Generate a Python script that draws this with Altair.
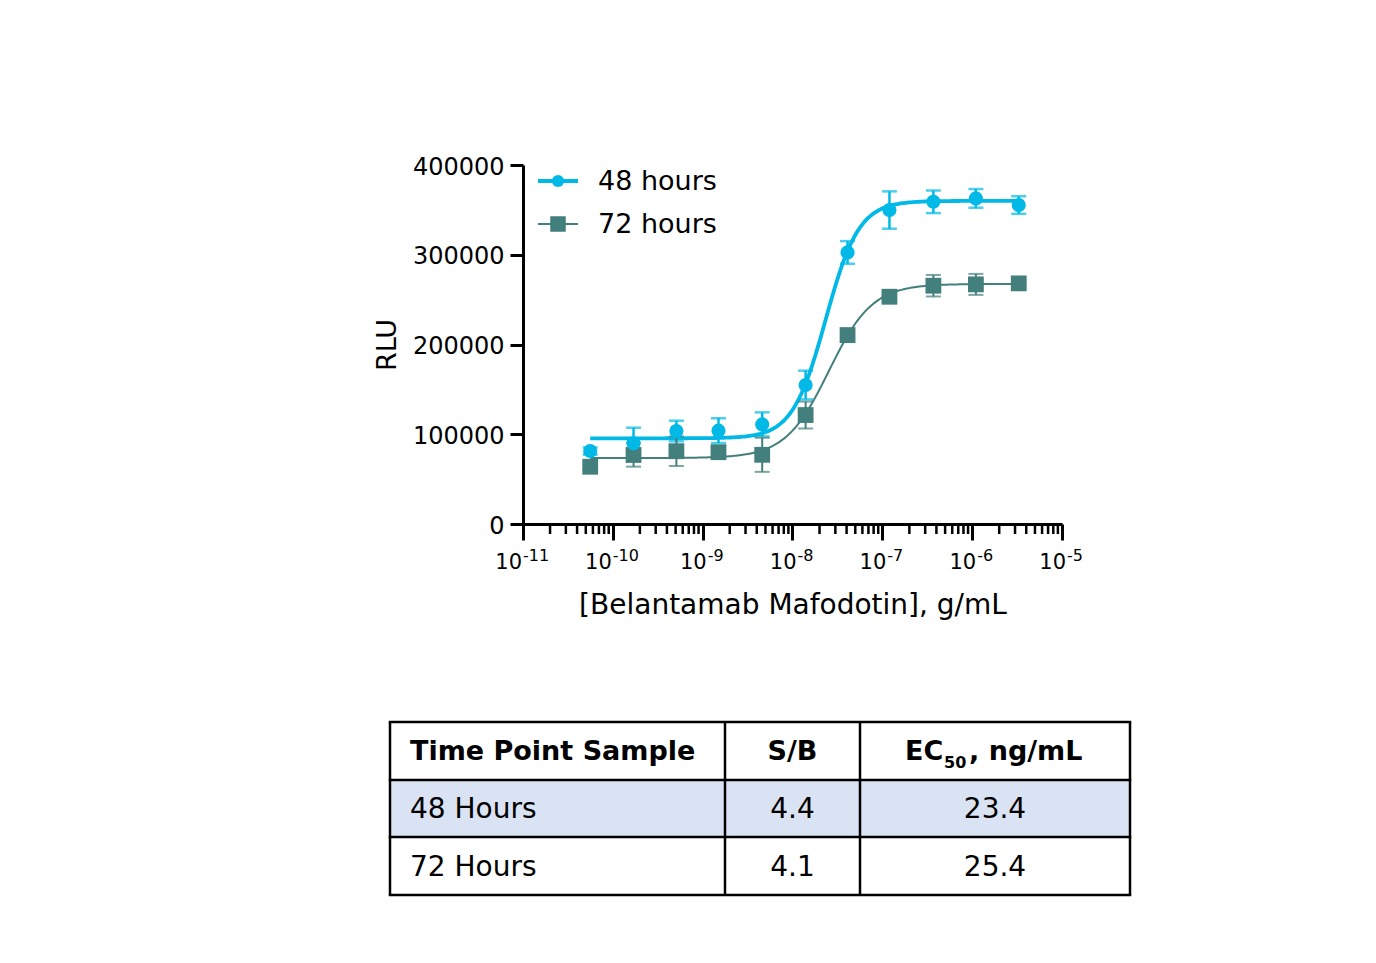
import math
import altair as alt
import pandas as pd

# ---------------- data ----------------
conc_g_ml = [5.6e-11, 1.7e-10, 5.1e-10, 1.5e-9, 4.6e-9, 1.4e-8, 4.1e-8, 1.2e-7, 3.7e-7, 1.1e-6, 3.3e-6]
rlu_48h = [81300, 89900, 103600, 104000, 111000, 154800, 302600, 349800, 359000, 362800, 355400]
sd_48h = [4000, 17400, 11500, 13800, 13400, 16000, 12600, 20800, 12600, 10400, 9800]
rlu_72h = [63800, 76900, 81100, 80000, 77100, 121400, 210500, 253200, 265500, 267000, 268100]
sd_72h = [3000, 13000, 16500, 6000, 19000, 15000, 5000, 4000, 12000, 11700, 3000]

series_names = ["48 hours", "72 hours"]
series_colors = ["#00B9E6", "#437F7C"]
fit_bottom = [95500, 73500]
fit_top = [360000, 267500]
fit_ec50_ng_ml = [23.4, 25.4]
fit_hill = [2.35, 1.8]

x_decades = [1e-11, 1e-10, 1e-9, 1e-8, 1e-7, 1e-6, 1e-5]
x_exponents = ["-11", "-10", "-9", "-8", "-7", "-6", "-5"]
y_ticks = [0, 100000, 200000, 300000, 400000]
x_title = "[Belantamab Mafodotin], g/mL"
y_title = "RLU"

table_header = ["Time Point Sample", "S/B"]
ec50_header_parts = ["EC", "50", ", ng/mL"]
table_samples = ["48 Hours", "72 Hours"]
table_sb = ["4.4", "4.1"]
table_ec50 = ["23.4", "25.4"]

# ---------------- layout / style ----------------
FONT = "DejaVu Sans"
W, H = 539, 359
x_scale = alt.Scale(type="log", domain=[1e-11, 1e-5], nice=False)
y_scale = alt.Scale(domain=[0, 400000], nice=False)

x_axis = alt.Axis(values=x_decades, labels=False, tickSize=16, tickWidth=3,
                  tickColor="black", domainColor="black", domainWidth=3,
                  grid=False, title=x_title, titleFont=FONT, titleFontSize=28,
                  titleFontWeight="normal", titleColor="black",
                  titlePadding=72, titleBaseline="alphabetic")
y_axis = alt.Axis(values=y_ticks, format="d", labelFont=FONT, labelFontSize=24,
                  labelColor="black", labelPadding=6, labelFlush=False, labelOffset=2,
                  tickSize=13, tickWidth=3, tickColor="black",
                  domainColor="black", domainWidth=3, grid=False,
                  title=y_title, titleFont=FONT, titleFontSize=27,
                  titleFontWeight="normal", titleColor="black", titlePadding=11)

col_edges = [-133, 202, 337, 607]
row_edges = [557, 615, 672, 730]

pts = pd.DataFrame({
    "conc": conc_g_ml * 2,
    "rlu": rlu_48h + rlu_72h,
    "sd": sd_48h + sd_72h,
    "series": [series_names[0]] * len(conc_g_ml) + [series_names[1]] * len(conc_g_ml),
})

X = lambda f: alt.X(f, type="quantitative", scale=x_scale, axis=x_axis)
Y = lambda f: alt.Y(f, type="quantitative", scale=y_scale, axis=y_axis)

lo_log = math.log10(conc_g_ml[0])
hi_log = math.log10(conc_g_ml[-1])


def curve(i, width):
    expr_x = f"pow(10, {lo_log} + datum.t * ({hi_log - lo_log}))"
    expr_y = (f"{fit_bottom[i]} + ({fit_top[i]} - {fit_bottom[i]}) / "
              f"(1 + pow({fit_ec50_ng_ml[i] * 1e-9} / datum.cx, {fit_hill[i]}))")
    return (alt.Chart(alt.sequence(0, 1.0001, 0.004, as_="t"))
            .transform_calculate(cx=expr_x)
            .transform_calculate(cy=expr_y)
            .mark_line(color=series_colors[i], strokeWidth=width)
            .encode(x=X("cx"), y=Y("cy"), order="t:Q"))


def errbars(i, width):
    base = (alt.Chart(pts)
            .transform_filter(alt.datum.series == series_names[i])
            .transform_calculate(lo="datum.rlu - datum.sd", hi="datum.rlu + datum.sd"))
    stem = base.mark_rule(color=series_colors[i], strokeWidth=width).encode(
        x=X("conc"), y=Y("lo"), y2="hi:Q")
    cap_lo = base.mark_tick(color=series_colors[i], orient="horizontal", size=15,
                            thickness=width).encode(x=X("conc"), y=Y("lo"))
    cap_hi = base.mark_tick(color=series_colors[i], orient="horizontal", size=15,
                            thickness=width).encode(x=X("conc"), y=Y("hi"))
    return stem + cap_lo + cap_hi


squares = (alt.Chart(pts).transform_filter(alt.datum.series == series_names[1])
           .mark_square(size=250, color=series_colors[1], opacity=1)
           .encode(x=X("conc"), y=Y("rlu")))

circles = (alt.Chart(pts).transform_filter(alt.datum.series == series_names[0])
           .mark_circle(size=200, color=series_colors[0], opacity=1)
           .encode(x=X("conc"), y=Y("rlu")))

# minor ticks of the log axis (2..9 within each decade)
minor_vals = [k * d for d in x_decades[:-1] for k in range(2, 10)]
minor = (alt.Chart(pd.DataFrame({"v": minor_vals}))
         .mark_rule(color="black", strokeWidth=2.5)
         .encode(x=X("v"), y=alt.value(H), y2=alt.value(H + 10)))

# tick labels 10^n
lab = pd.DataFrame({"v": x_decades, "e": x_exponents})
lab["two"] = lab["e"].str.len() > 2


def tick_labels(two, dx10, dxe):
    base = alt.Chart(lab).transform_filter(alt.datum.two == two)
    ten = base.mark_text(text="10", align="right", baseline="alphabetic", font=FONT,
                         fontSize=21, color="black", dx=dx10).encode(
        x=X("v"), y=alt.value(404))
    ex = base.mark_text(align="left", baseline="alphabetic", font=FONT, fontSize=16,
                        color="black", dx=dxe).encode(
        x=X("v"), y=alt.value(396), text="e:N")
    return ten + ex


# legend
def legend_row(i, ypix, width, shape, size):
    d = pd.DataFrame({"n": [series_names[i]]})
    line = alt.Chart(d).mark_rule(color=series_colors[i], strokeWidth=width).encode(
        x=alt.value(15), x2=alt.value(55), y=alt.value(ypix))
    sym = alt.Chart(d).mark_point(shape=shape, filled=True, size=size,
                                  color=series_colors[i], opacity=1).encode(
        x=alt.value(35), y=alt.value(ypix))
    txt = alt.Chart(d).mark_text(align="left", baseline="middle", font=FONT,
                                 fontSize=27, color="black").encode(
        x=alt.value(75), y=alt.value(ypix + 1), text="n:N")
    return line + sym + txt


# table
PX = lambda f: alt.X(f, type="quantitative", scale=None, axis=None)
PY = lambda f: alt.Y(f, type="quantitative", scale=None, axis=None)

fill_df = pd.DataFrame({"x0": [col_edges[0]], "x1": [col_edges[-1]],
                        "y0": [row_edges[1]], "y1": [row_edges[2]]})
table_fill = alt.Chart(fill_df).mark_rect(fill="#DAE3F3").encode(
    x=PX("x0"), x2="x1:Q", y=PY("y0"), y2="y1:Q")

grid_rows = ([{"x0": col_edges[0] - 1.25, "x1": col_edges[-1] + 1.25, "y0": y, "y1": y} for y in row_edges]
             + [{"x0": x, "x1": x, "y0": row_edges[0], "y1": row_edges[-1]} for x in col_edges])
table_grid = alt.Chart(pd.DataFrame(grid_rows)).mark_rule(color="black", strokeWidth=2.5).encode(
    x=PX("x0"), x2="x1:Q", y=PY("y0"), y2="y1:Q")

rc = [(row_edges[i] + row_edges[i + 1]) / 2 for i in range(3)]
cc = [(col_edges[i] + col_edges[i + 1]) / 2 for i in range(3)]
left_x = col_edges[0] + 20

hdr_left = pd.DataFrame({"t": [table_header[0], ec50_header_parts[0], ec50_header_parts[2]],
                         "x": [left_x, 382, 446], "y": [rc[0] + 1] * 3})
hdr_left_l = alt.Chart(hdr_left).mark_text(align="left", baseline="middle", font=FONT,
                                           fontSize=27, fontWeight="bold", color="black").encode(
    x=PX("x"), y=PY("y"), text="t:N")
hdr_c = pd.DataFrame({"t": [table_header[1]], "x": [cc[1]], "y": [rc[0] + 1]})
hdr_c_l = alt.Chart(hdr_c).mark_text(align="center", baseline="middle", font=FONT,
                                     fontSize=27, fontWeight="bold", color="black").encode(
    x=PX("x"), y=PY("y"), text="t:N")
hdr_sub = pd.DataFrame({"t": [ec50_header_parts[1]], "x": [421], "y": [rc[0] + 12]})
hdr_sub_l = alt.Chart(hdr_sub).mark_text(align="left", baseline="middle", font=FONT,
                                         fontSize=16, fontWeight="bold", color="black").encode(
    x=PX("x"), y=PY("y"), text="t:N")

body_left = pd.DataFrame({"t": table_samples, "x": [left_x] * 2, "y": [v + 1.5 for v in rc[1:]]})
body_left_l = alt.Chart(body_left).mark_text(align="left", baseline="middle", font=FONT,
                                             fontSize=28, color="black").encode(
    x=PX("x"), y=PY("y"), text="t:N")
body_c = pd.DataFrame({"t": table_sb + table_ec50, "x": [cc[1]] * 2 + [cc[2]] * 2,
                       "y": [v + 1.5 for v in rc[1:] + rc[1:]]})
body_c_l = alt.Chart(body_c).mark_text(align="center", baseline="middle", font=FONT,
                                       fontSize=28, color="black").encode(
    x=PX("x"), y=PY("y"), text="t:N")

chart = alt.layer(
    curve(1, 2), curve(0, 3.8),
    errbars(0, 2.5), errbars(1, 2),
    squares, circles,
    minor,
    tick_labels(True, -1, 0), tick_labels(False, 4, 5),
    legend_row(0, 16, 3.8, "circle", 150), legend_row(1, 59, 2, "square", 240),
    table_fill, table_grid, hdr_left_l, hdr_c_l, hdr_sub_l, body_left_l, body_c_l,
).properties(
    width=W, height=H,
    autosize=alt.AutoSizeParams(type="none"),
    padding={"left": 515, "top": 157, "right": 290, "bottom": 415},
).configure(background="white").configure_view(stroke=None)

chart.save("out.html", embed_options={"renderer": "svg", "actions": False})
